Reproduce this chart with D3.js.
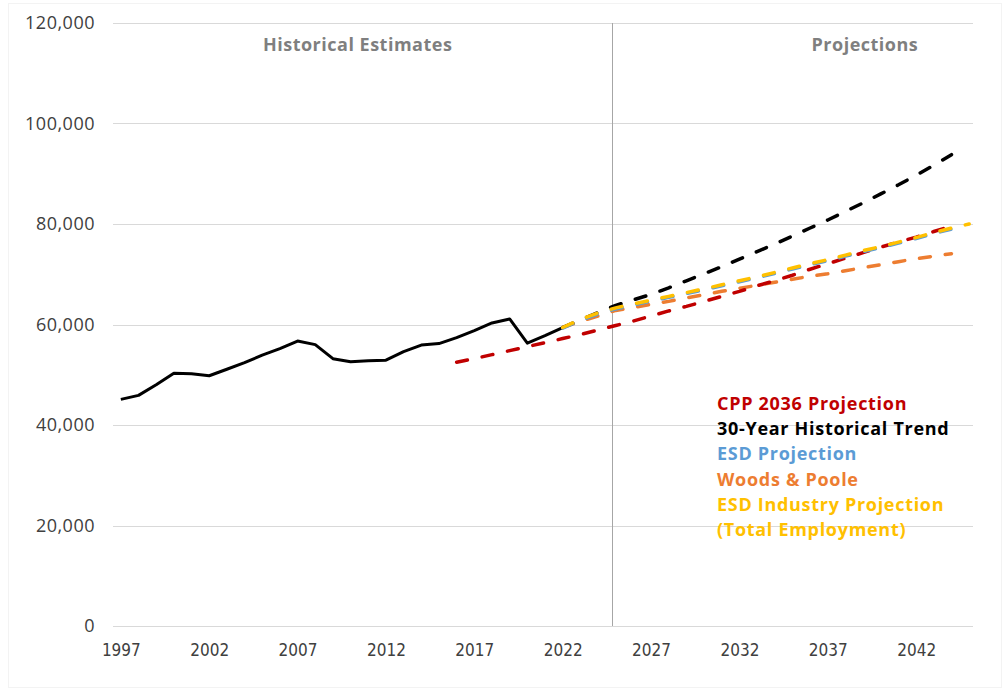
<!DOCTYPE html>
<html>
<head>
<meta charset="utf-8">
<script src="https://cdn.jsdelivr.net/npm/d3@7"></script>
<style>
    body { margin: 0; background: #fff; }
    .tick-y { font-family: "Open Sans", sans-serif; font-size: 18px; letter-spacing: 0.5px; fill: #404040; }
    .tick-x { font-family: "Liberation Sans Narrow", "DejaVu Sans Condensed", sans-serif; font-size: 17px; fill: #404040; }
    .section { font-family: "Open Sans", sans-serif; font-weight: bold; font-size: 18px; letter-spacing: 0.5px; fill: #7f7f7f; }
    .legend { font-family: "Open Sans", sans-serif; font-weight: bold; font-size: 18px; letter-spacing: 0.7px; }
</style>
</head>
<body>
<div class="chart"></div>
<script>
// historical estimates, 1997-2022
const histYears = d3.range(1997, 2023);
const histValues = [45100, 45900, 48000, 50300, 50200, 49800, 51100, 52400, 53900, 55200,
    56700, 56000, 53200, 52600, 52800, 52900, 54600, 55900, 56200, 57400,
    58800, 60300, 61100, 56300, 57800, 59400];

// CPP 2036 Projection, 2016-2044
const cppYears = d3.range(2016, 2045);
const cppValues = [52500, 53200, 54000, 54800, 55600, 56400, 57200, 58000, 58900, 59800,
    60700, 61700, 62700, 63600, 64600, 65600, 66600, 67700, 68700, 69800,
    71000, 72100, 73200, 74300, 75400, 76400, 77400, 78500, 79600];

// 30-Year Historical Trend, 2022-2044
const trendYears = d3.range(2022, 2045);
const trendValues = [59400, 60900, 62400, 63800, 64900, 66000, 67300, 68700, 70100, 71500,
    73000, 74500, 76000, 77600, 79200, 80800, 82500, 84200, 86000, 87800,
    89700, 91700, 93800];

// ESD Projection, 2022-2044
const esdYears = d3.range(2022, 2045);
const esdValues = [59300, 60800, 62100, 63100, 63900, 64650, 65400, 66150, 66900, 67700,
    68500, 69300, 70150, 71050, 71900, 72700, 73600, 74500, 75300, 76200,
    77100, 78100, 79000];

// Woods & Poole, 2022-2044
const woodsYears = d3.range(2022, 2045);
const woodsValues = [59400, 60600, 61700, 62800, 63400, 64000, 64600, 65300, 65900, 66600,
    67200, 67800, 68400, 69000, 69600, 70100, 70700, 71300, 71900, 72500,
    73100, 73600, 74100];

// ESD Industry Projection (Total Employment), 2022-2045
const industryYears = d3.range(2022, 2046);
const industryValues = [59400, 61000, 62300, 63300, 64100, 64850, 65600, 66350, 67100, 67900,
    68700, 69500, 70350, 71250, 72100, 72900, 73800, 74700, 75500, 76400,
    77300, 78300, 79200, 80000];

const xTicks = [1997, 2002, 2007, 2012, 2017, 2022, 2027, 2032, 2037, 2042];
const yTicks = [0, 20000, 40000, 60000, 80000, 100000, 120000];
const splitYear = 2024.8;
const sectionLabels = ["Historical Estimates", "Projections"];
const legendLabels = ["CPP 2036 Projection", "30-Year Historical Trend", "ESD Projection",
    "Woods & Poole", "ESD Industry Projection", "(Total Employment)"];
const legendColors = ["#c00000", "#000000", "#5b9bd5", "#ed7d31", "#ffc000", "#ffc000"];

function drawChart() {
    const w = 1005;
    const h = 691;
    const margin = { top: 23, right: 27, bottom: 65, left: 112 };

    const xScale = d3.scaleLinear()
        .domain([1996.5, 2045.5])
        .range([margin.left, w - margin.right]);

    const yScale = d3.scaleLinear()
        .domain([0, 120000])
        .range([h - margin.bottom, margin.top]);

    const svg = d3.select('.chart')
        .append('svg')
        .attr('width', w)
        .attr('height', h);

    svg.append('rect')
        .attr('x', 8.5)
        .attr('y', 3.5)
        .attr('width', 993)
        .attr('height', 684)
        .attr('fill', 'none')
        .attr('stroke', '#f3f3f3');

    // gridlines
    svg.append('g')
        .selectAll('line')
        .data(yTicks)
        .enter()
        .append('line')
        .attr('x1', margin.left + 1)
        .attr('x2', w - margin.right - 5)
        .attr('y1', d => Math.round(yScale(d)) + 0.5)
        .attr('y2', d => Math.round(yScale(d)) + 0.5)
        .attr('stroke', '#d9d9d9')
        .attr('stroke-width', 1);

    const yAxis = d3.axisLeft(yScale)
        .tickValues(yTicks)
        .tickFormat(d3.format(','))
        .tickSize(0)
        .tickPadding(17);

    svg.append('g')
        .attr('transform', 'translate(' + margin.left + ',0)')
        .call(yAxis)
        .call(g => g.select('.domain').remove())
        .selectAll('text')
        .attr('class', 'tick-y')
        .attr('fill', null);

    const xAxis = d3.axisBottom(xScale)
        .tickValues(xTicks)
        .tickFormat(d3.format('d'))
        .tickSize(0)
        .tickPadding(18);

    svg.append('g')
        .attr('transform', 'translate(0,' + (h - margin.bottom) + ')')
        .call(xAxis)
        .call(g => g.select('.domain').remove())
        .selectAll('text')
        .attr('class', 'tick-x')
        .attr('fill', null);

    // historical / projection divider
    svg.append('line')
        .attr('x1', Math.round(xScale(splitYear)) + 0.5)
        .attr('x2', Math.round(xScale(splitYear)) + 0.5)
        .attr('y1', yScale(120000))
        .attr('y2', yScale(0))
        .attr('stroke', '#a6a6a6')
        .attr('stroke-width', 1);

    svg.append('text')
        .attr('class', 'section')
        .attr('x', xScale(2010.4))
        .attr('y', 51)
        .attr('text-anchor', 'middle')
        .text(sectionLabels[0]);

    svg.append('text')
        .attr('class', 'section')
        .attr('x', xScale(2039.1))
        .attr('y', 51)
        .attr('text-anchor', 'middle')
        .text(sectionLabels[1]);

    const line = d3.line()
        .x(d => xScale(d[0]))
        .y(d => yScale(d[1]));

    const series = [
        { years: woodsYears, values: woodsValues, color: '#ed7d31', dashed: true },
        { years: trendYears, values: trendValues, color: '#000000', dashed: true },
        { years: cppYears, values: cppValues, color: '#c00000', dashed: true },
        { years: histYears, values: histValues, color: '#000000', dashed: false },
        { years: esdYears, values: esdValues, color: '#5b9bd5', dashed: true },
        { years: industryYears, values: industryValues, color: '#ffc000', dashed: true }
    ];

    svg.append('g')
        .selectAll('path')
        .data(series)
        .enter()
        .append('path')
        .attr('d', s => line(s.years.map((y, i) => [y, s.values[i]])))
        .attr('fill', 'none')
        .attr('stroke', s => s.color)
        .attr('stroke-width', s => s.dashed ? 3.5 : 3)
        .attr('stroke-linejoin', 'round')
        .attr('stroke-linecap', s => s.dashed ? 'round' : 'butt')
        .attr('stroke-dasharray', s => s.dashed ? '11,15' : null);

    svg.append('g')
        .selectAll('text')
        .data(legendLabels)
        .enter()
        .append('text')
        .attr('class', 'legend')
        .attr('x', 717)
        .attr('y', (d, i) => 410 + i * 25.2)
        .attr('fill', (d, i) => legendColors[i])
        .text(d => d);
}

drawChart();
</script>
</body>
</html>
